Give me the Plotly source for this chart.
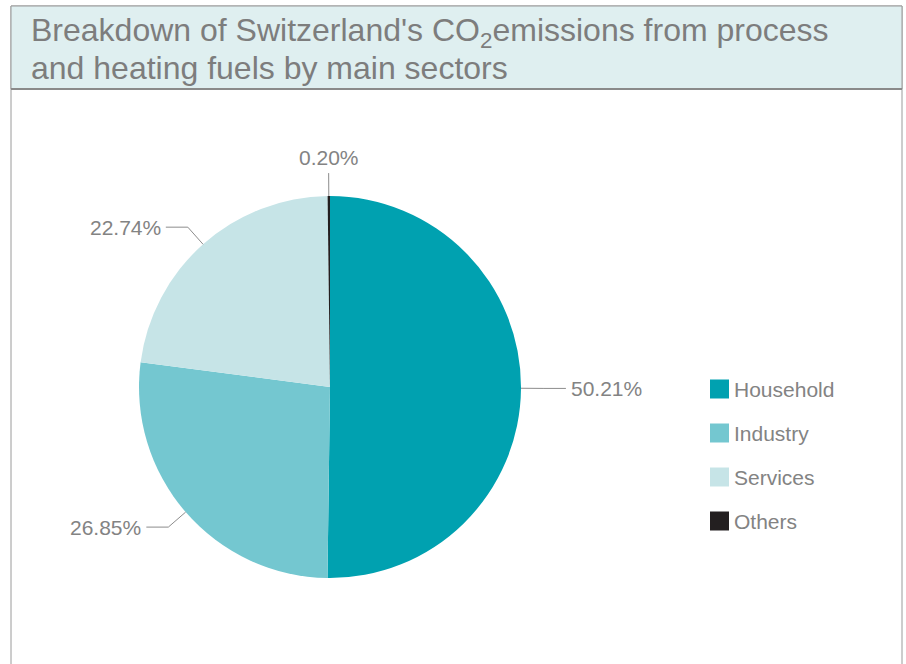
import math
import plotly.graph_objects as go

# ---- data ----
categories = ["Household", "Industry", "Services", "Others"]
shares = [50.21, 26.85, 22.74, 0.20]
colors = ["#00a1b0", "#74c7d0", "#c6e4e7", "#231f20"]
title_lines = ["Breakdown of Switzerland's CO<sub>2</sub>emissions from process",
               "and heating fuels by main sectors"]

W, H = 906, 664
CX, CY, R = 330, 387, 191
TXT = "#838383"
LINE = "#8c8c8c"
FONT = "Liberation Sans, Arial, sans-serif"


def px(x):
    return x / W


def py(y):
    return 1 - y / H


fig = go.Figure()
fig.add_trace(go.Pie(
    labels=categories, values=shares, sort=False, direction="clockwise",
    rotation=0, marker=dict(colors=colors, line=dict(width=0)),
    textinfo="none", hoverinfo="label+percent", showlegend=False,
    domain=dict(x=[px(CX - R), px(CX + R)], y=[py(CY + R), py(CY - R)]),
))

shapes = []
annotations = []

# outer frame and title box
shapes.append(dict(type="rect", xref="paper", yref="paper",
                   x0=px(11), x1=px(902), y0=py(700), y1=py(6),
                   line=dict(color="#9a9a9a", width=1), fillcolor="rgba(0,0,0,0)", layer="below"))
shapes.append(dict(type="rect", xref="paper", yref="paper",
                   x0=px(11), x1=px(902), y0=py(89), y1=py(6),
                   line=dict(color="#9a9a9a", width=1), fillcolor="#dfeff0", layer="below"))
shapes.append(dict(type="line", xref="paper", yref="paper",
                   x0=px(11), x1=px(902), y0=py(89), y1=py(89),
                   line=dict(color="#8a8a8a", width=2)))

for i, t in enumerate(title_lines):
    annotations.append(dict(xref="paper", yref="paper", x=px(29), y=py(33 + 35 * i),
                            xanchor="left", yanchor="middle", showarrow=False,
                            text=t, font=dict(family=FONT, size=32, color="#7d7d7d")))

# leader lines + percentage labels, from slice geometry
total = sum(shares)
cum = 0.0
for name, v in zip(categories, shares):
    mid = (cum + v / 2) / total * 2 * math.pi
    cum += v
    s, c = math.sin(mid), -math.cos(mid)
    ex, ey = CX + R * s, CY + R * c
    kx, ky = CX + 1.12 * R * s, CY + 1.12 * R * c
    label = f"{v:.2f}%"
    if abs(s) < 0.2:
        shapes.append(dict(type="line", xref="paper", yref="paper",
                           x0=px(ex), y0=py(ey), x1=px(kx), y1=py(ky),
                           line=dict(color=LINE, width=1)))
        annotations.append(dict(xref="paper", yref="paper", x=px(kx),
                                y=py(ky - 2), xanchor="center",
                                yanchor="bottom" if c < 0 else "top",
                                showarrow=False, text=label,
                                font=dict(family=FONT, size=21, color=TXT)))
    else:
        sign = 1 if s > 0 else -1
        hx = kx + sign * 22
        shapes.append(dict(type="path", xref="paper", yref="paper",
                           path=f"M{px(ex)},{py(ey)} L{px(kx)},{py(ky)} L{px(hx)},{py(ky)}",
                           line=dict(color=LINE, width=1)))
        annotations.append(dict(xref="paper", yref="paper", x=px(hx + sign * 3),
                                y=py(ky), xanchor="left" if sign > 0 else "right",
                                yanchor="middle", showarrow=False, text=label,
                                font=dict(family=FONT, size=21, color=TXT)))

# legend
for i, (name, col) in enumerate(zip(categories, colors)):
    yc = 389 + 44 * i
    shapes.append(dict(type="rect", xref="paper", yref="paper",
                       x0=px(710), x1=px(729), y0=py(yc + 9.5), y1=py(yc - 9.5),
                       fillcolor=col, line=dict(width=0)))
    annotations.append(dict(xref="paper", yref="paper", x=px(732), y=py(yc),
                            xanchor="left", yanchor="middle", showarrow=False,
                            text=name, font=dict(family=FONT, size=21, color=TXT)))

fig.update_layout(
    width=W, height=H, margin=dict(l=0, r=0, t=0, b=0),
    paper_bgcolor="white", plot_bgcolor="white",
    shapes=shapes, annotations=annotations, showlegend=False,
)

fig.write_html("out.html")
